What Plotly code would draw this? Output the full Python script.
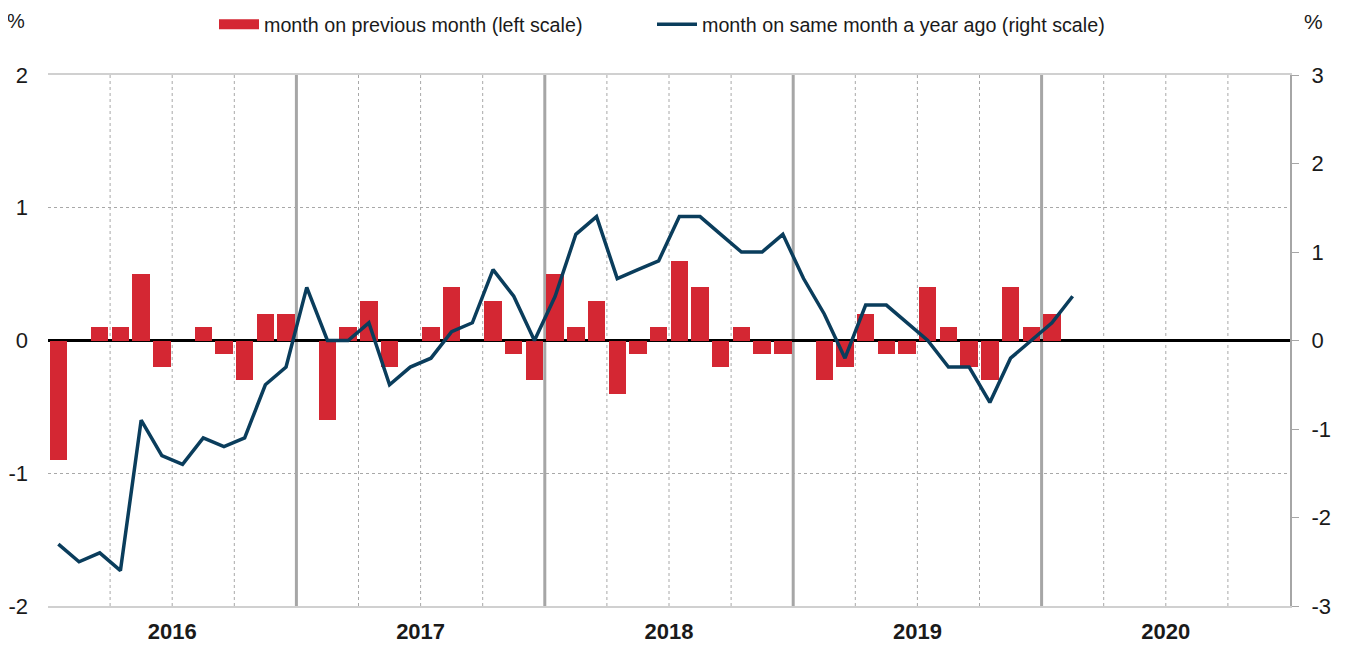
import plotly.graph_objects as go

# ---- data -------------------------------------------------------------
years = ["2016", "2017", "2018", "2019", "2020"]
months = [f"{y}-{m:02d}" for y in years for m in range(1, 13)]

mom = [
    -0.9, 0.0, 0.1, 0.1, 0.5, -0.2, 0.0, 0.1, -0.1, -0.3, 0.2, 0.2,   # 2016
    0.0, -0.6, 0.1, 0.3, -0.2, 0.0, 0.1, 0.4, 0.0, 0.3, -0.1, -0.3,   # 2017
    0.5, 0.1, 0.3, -0.4, -0.1, 0.1, 0.6, 0.4, -0.2, 0.1, -0.1, -0.1,  # 2018
    0.0, -0.3, -0.2, 0.2, -0.1, -0.1, 0.4, 0.1, -0.2, -0.3, 0.4, 0.1, # 2019
    0.2,                                                               # 2020
]
yoy = [
    -2.3, -2.5, -2.4, -2.6, -0.9, -1.3, -1.4, -1.1, -1.2, -1.1, -0.5, -0.3,  # 2016
    0.6, 0.0, 0.0, 0.2, -0.5, -0.3, -0.2, 0.1, 0.2, 0.8, 0.5, 0.0,           # 2017
    0.5, 1.2, 1.4, 0.7, 0.8, 0.9, 1.4, 1.4, 1.2, 1.0, 1.0, 1.2,              # 2018
    0.7, 0.3, -0.2, 0.4, 0.4, 0.2, 0.0, -0.3, -0.3, -0.7, -0.2, 0.0,         # 2019
    0.2, 0.5,                                                                # 2020
]
left_ticks = [-2, -1, 0, 1, 2]
left_labels = ["-2", "-1", "0", "1", "2"]
right_ticks = [-3, -2, -1, 0, 1, 2, 3]
right_labels = ["-3", "-2", "-1", "0", "1", "2", "3"]

bar_name = "month on previous month (left scale)"
line_name = "month on same month a year ago (right scale)"

# ---- styling ----------------------------------------------------------
FONT = "Liberation Sans, Arial"
RED = "#D42733"
NAVY = "#0A3D5C"
GRID = "#A8A8A8"
TXT = "#1a1a1a"

idx = {m: i for i, m in enumerate(months)}
x_bar = [idx[m] for m in months[:len(mom)]]
x_line = [idx[m] for m in months[:len(yoy)]]

fig = go.Figure()
fig.add_trace(go.Bar(
    x=x_bar, y=mom, name=bar_name, marker=dict(color=RED, line=dict(width=0)),
    width=0.84, yaxis="y", showlegend=False,
))
# legend-only entry giving a wide rectangular swatch for the bars
fig.add_trace(go.Scatter(
    x=[None], y=[None], name=bar_name, mode="lines",
    line=dict(color=RED, width=12), yaxis="y", showlegend=True,
    legend="legend",
))
fig.add_trace(go.Scatter(
    x=x_line, y=yoy, name=line_name, mode="lines",
    line=dict(color=NAVY, width=3.5), yaxis="y2", legend="legend2",
))

shapes = []
n = len(months)
for k in range(3, n, 3):
    xv = k - 0.5
    if k % 12 == 0:
        shapes.append(dict(type="line", xref="x", yref="paper", x0=xv, x1=xv,
                           y0=0, y1=1, layer="below",
                           line=dict(color="#A6A6A6", width=3)))
    else:
        shapes.append(dict(type="line", xref="x", yref="paper", x0=xv, x1=xv,
                           y0=0, y1=1, layer="below",
                           line=dict(color=GRID, width=1, dash="dot")))

year_pos = [idx[f"{y}-06"] + 0.5 for y in years]

legend_common = dict(orientation="h", xanchor="left", yref="container",
                     y=0.974, yanchor="middle",
                     font=dict(size=19.7, color=TXT),
                     bgcolor="rgba(0,0,0,0)", itemwidth=40)

fig.update_layout(
    width=1338, height=637,
    margin=dict(l=40, r=56, t=67, b=39, autoexpand=False),
    plot_bgcolor="white", paper_bgcolor="white",
    font=dict(family=FONT, size=19, color=TXT),
    bargap=0,
    showlegend=True,
    legend=dict(x=(214 - 48) / 1242, **legend_common),
    legend2=dict(x=(652 - 48) / 1242, **legend_common),
    shapes=shapes,
    xaxis=dict(
        range=[-0.5, n - 0.5], tickvals=year_pos, ticktext=years,
        tickfont=dict(family=FONT, size=22, color=TXT, weight="bold"),
        showgrid=False, zeroline=False, ticks="", showline=True, mirror=True,
        linecolor="#D0D0D0", linewidth=2, automargin=False,
        ticklabelstandoff=5,
    ),
    yaxis=dict(
        range=[-2, 2], tickvals=left_ticks, ticktext=left_labels,
        showgrid=True, gridcolor=GRID,
        griddash="dot", gridwidth=1, zeroline=True, zerolinecolor="black",
        zerolinewidth=2.5, ticks="", showline=False, automargin=False,
        tickfont=dict(size=22), ticklabelstandoff=19,
    ),
    yaxis2=dict(
        range=[-3, 3], tickvals=right_ticks, ticktext=right_labels,
        overlaying="y", side="right", automargin=False,
        showgrid=False, zeroline=False, ticks="outside", ticklen=7,
        tickcolor="#A6A6A6", showline=True, linecolor="#A6A6A6", linewidth=2,
        tickfont=dict(size=22), ticklabelstandoff=8,
    ),
    annotations=[
        dict(text="%", xref="paper", yref="paper", x=(16 - 48) / 1242,
             y=(606 - 21) / 531, xanchor="center", yanchor="middle",
             showarrow=False, font=dict(size=20)),
        dict(text="%", xref="paper", yref="paper", x=(1313 - 48) / 1242,
             y=(606 - 21) / 531, xanchor="center", yanchor="middle",
             showarrow=False, font=dict(size=21)),
    ],
)

fig.write_html("out.html")
